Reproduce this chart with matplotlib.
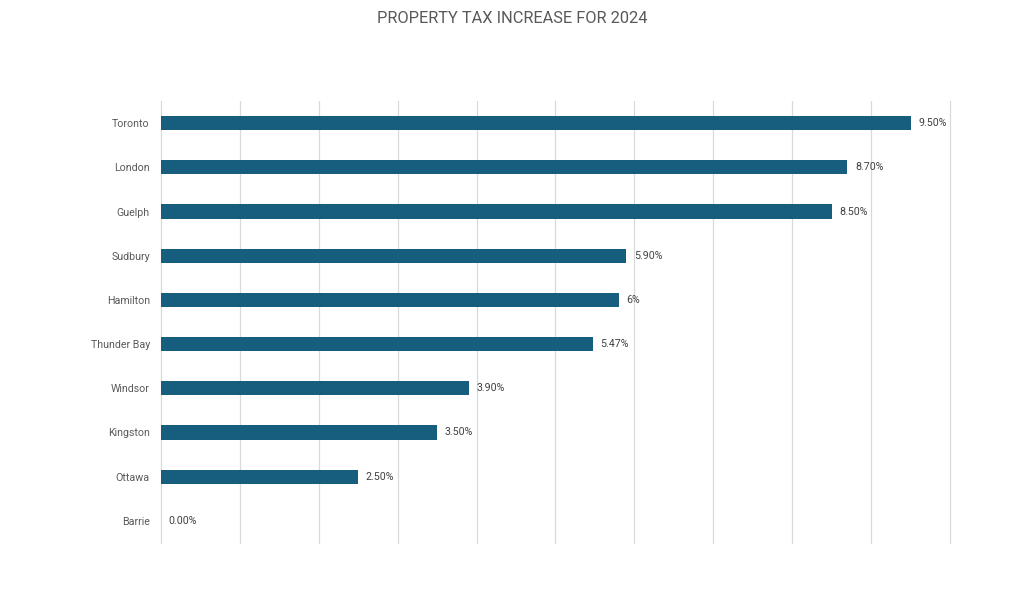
import matplotlib.pyplot as plt
from matplotlib.ticker import MultipleLocator

# data, top to bottom as in the chart
cities = ['Toronto', 'London', 'Guelph', 'Sudbury', 'Hamilton',
          'Thunder Bay', 'Windsor', 'Kingston', 'Ottawa', 'Barrie']
increase = [9.50, 8.70, 8.50, 5.90, 5.80, 5.47, 3.90, 3.50, 2.50, 0.00]
bar_labels = ['9.50%', '8.70%', '8.50%', '5.90%', '6%',
              '5.47%', '3.90%', '3.50%', '2.50%', '0.00%']

plt.rcParams['font.family'] = ['Roboto', 'DejaVu Sans']
text_color = '#595959'

fig = plt.figure(figsize=(10.24, 6.05), dpi=100)
ax = fig.add_axes([0.1572, 0.1025, 0.7705, 0.7305])

ypos = list(range(len(cities)))
bars = ax.barh(ypos, increase, height=0.32, color='#175E7E', zorder=3)
ax.bar_label(bars, labels=bar_labels, padding=5.5, fontsize=7.7, color='#404040')

ax.set_yticks(ypos)
ax.set_yticklabels(cities, fontsize=7.7, color=text_color)
ax.set_ylim(len(cities) - 0.5, -0.5)
ax.set_xlim(0, 10)
ax.xaxis.set_major_locator(MultipleLocator(1))
ax.set_xticklabels([])
ax.tick_params(length=0, axis='both')
ax.tick_params(axis='y', pad=8)
ax.grid(axis='x', color='#D9D9D9', linewidth=0.9, zorder=0)
for gl in ax.get_xgridlines():
    gl.set_clip_on(False)
for s in ax.spines.values():
    s.set_visible(False)

fig.suptitle('PROPERTY TAX INCREASE FOR 2024', y=0.982, fontsize=11.8,
             color=text_color)

fig.savefig('out.png', dpi=100)
